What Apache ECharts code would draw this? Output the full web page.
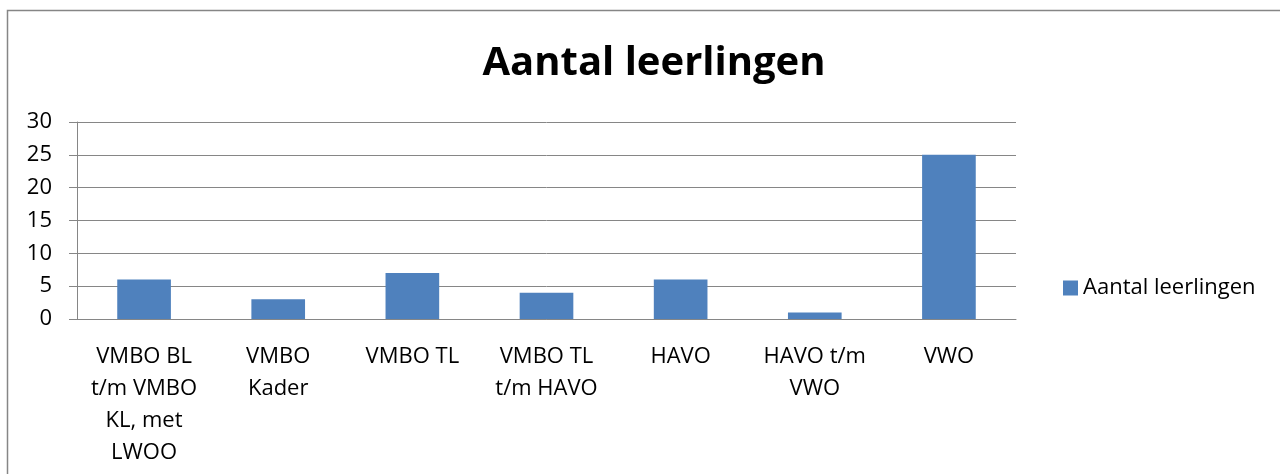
<!DOCTYPE html>
<html>
<head>
<meta charset="utf-8">
<script src="https://cdn.jsdelivr.net/npm/echarts@6/dist/echarts.min.js"></script>
<style>
  html, body { margin: 0; padding: 0; background: #fff; }
  #main { width: 1280px; height: 474px; }
</style>
</head>
<body>
<div id="main"></div>
<script>
// data
const categories = [
    'VMBO BL\nt/m VMBO\nKL, met\nLWOO',
    'VMBO\nKader',
    'VMBO TL',
    'VMBO TL\nt/m HAVO',
    'HAVO',
    'HAVO t/m\nVWO',
    'VWO'
];
const leerlingen = [6, 3, 7, 4, 6, 1, 25];
const seriesName = 'Aantal leerlingen';

const font = '"Open Sans", "Liberation Sans", sans-serif';
const chart = echarts.init(document.getElementById('main'));

const option = {
    animation: false,
    textStyle: {fontFamily: font},
    title: {
        text: 'Aantal leerlingen',
        left: 649,
        top: 39,
        textAlign: 'center',
        textStyle: {fontSize: 40, fontWeight: 'bold', color: '#000', fontFamily: font}
    },
    legend: {
        data: [seriesName],
        left: 1058,
        top: 272,
        icon: 'rect',
        itemWidth: 15,
        itemHeight: 15,
        itemGap: 6,
        textStyle: {fontSize: 22, color: '#000', fontFamily: font}
    },
    grid: {left: 77, right: 264, top: 122, bottom: 155},
    xAxis: {
        type: 'category',
        data: categories,
        axisLine: {lineStyle: {color: '#868686', width: 1}},
        axisTick: {alignWithLabel: false, length: 8, lineStyle: {color: '#868686'}},
        axisLabel: {
            interval: 0,
            margin: 22,
            fontSize: 22,
            lineHeight: 32,
            color: '#000',
            fontFamily: font
        }
    },
    yAxis: {
        type: 'value',
        min: 0,
        max: 30,
        interval: 5,
        axisLine: {show: true, lineStyle: {color: '#868686', width: 1}},
        axisTick: {show: true, length: 8, lineStyle: {color: '#868686'}},
        splitLine: {lineStyle: {color: '#868686', width: 1}},
        axisLabel: {fontSize: 22, color: '#000', margin: 25, fontFamily: font}
    },
    graphic: [{
        type: 'rect',
        shape: {x: 7.5, y: 10.5, width: 1290, height: 480},
        style: {fill: 'none', stroke: '#868686', lineWidth: 1.5},
        silent: true
    }],
    series: [{
        name: seriesName,
        type: 'bar',
        data: leerlingen,
        barCategoryGap: '60%',
        itemStyle: {color: '#4F81BD'}
    }]
};

chart.setOption(option);
</script>
</body>
</html>
